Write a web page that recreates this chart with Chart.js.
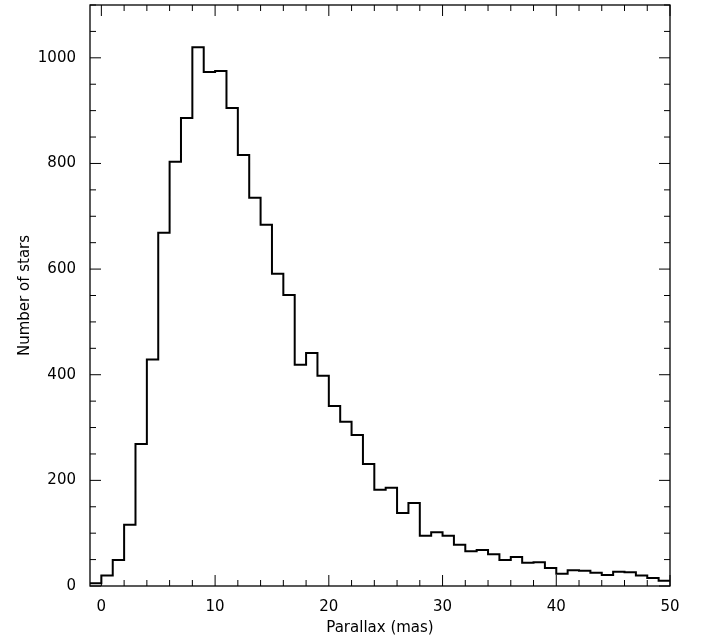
<!DOCTYPE html>
<html>
<head>
<script src="https://cdn.jsdelivr.net/npm/chart.js@4"></script>
<style>body{margin:0;background:#fff}</style>
</head>
<body>
<canvas id="c" width="701" height="641"></canvas>
<script>
// bin left edges (mas), 1 mas wide
const binEdges = [];
for (let e = -1; e <= 49; e++) binEdges.push(e);
const counts = [5, 20, 49, 116, 269, 429, 669, 803, 886, 1020,
  973, 975, 905, 816, 735, 684, 591, 551, 419, 441,
  398, 341, 311, 286, 231, 182, 186, 138, 157, 95,
  102, 95, 78, 66, 68, 60, 49, 55, 44, 45,
  34, 23, 30, 29, 25, 21, 27, 26, 20, 15, 10];
const xMajor = [0, 10, 20, 30, 40, 50];
const yMajor = [0, 200, 400, 600, 800, 1000];

const points = binEdges.map((e, i) => ({ x: e, y: counts[i] }));
points.push({ x: 50, y: counts[counts.length - 1] });

// box frame with inward ticks on all four sides
const framePlugin = {
  id: 'frame',
  afterDraw(chart) {
    const { ctx, chartArea: a, scales: { x, y } } = chart;
    ctx.save();
    ctx.strokeStyle = '#000';
    ctx.lineWidth = 1.3;
    ctx.strokeRect(a.left, a.top, a.right - a.left, a.bottom - a.top);
    ctx.lineWidth = 1;
    ctx.beginPath();
    for (let v = 0; v <= 50; v += 2) {
      const px = x.getPixelForValue(v);
      const len = v % 10 === 0 ? 11 : 6;
      ctx.moveTo(px, a.bottom); ctx.lineTo(px, a.bottom - len);
      ctx.moveTo(px, a.top); ctx.lineTo(px, a.top + len);
    }
    for (let v = 0; v <= 1100; v += 50) {
      const py = y.getPixelForValue(v);
      const len = v % 200 === 0 ? 11 : 6;
      ctx.moveTo(a.left, py); ctx.lineTo(a.left + len, py);
      ctx.moveTo(a.right, py); ctx.lineTo(a.right - len, py);
    }
    ctx.stroke();
    ctx.restore();
  }
};

const font = { family: 'DejaVu Sans', size: 15 };

new Chart(document.getElementById('c').getContext('2d'), {
  type: 'line',
  data: {
    datasets: [{
      data: points,
      stepped: 'before',
      borderColor: '#000',
      borderWidth: 2,
      pointRadius: 0,
      fill: false
    }]
  },
  options: {
    responsive: false,
    animation: false,
    layout: { padding: { top: 5, right: 31, left: 12, bottom: 0 } },
    plugins: { legend: { display: false }, tooltip: { enabled: false } },
    scales: {
      x: {
        type: 'linear',
        min: -1,
        max: 50,
        afterFit: s => { s.height = 55; },
        afterBuildTicks: s => { s.ticks = xMajor.map(v => ({ value: v })); },
        grid: { display: false },
        border: { display: false },
        ticks: { color: '#000', font: font, padding: 4, maxRotation: 0 },
        title: { display: true, text: 'Parallax (mas)', color: '#000', font: font, padding: { top: 0 } }
      },
      y: {
        min: 0,
        max: 1100,
        afterFit: s => { s.width = 78; s.paddingTop = 0; s.paddingBottom = 0; },
        afterBuildTicks: s => { s.ticks = yMajor.map(v => ({ value: v })); },
        grid: { display: false },
        border: { display: false },
        ticks: { color: '#000', font: font, padding: 6, callback: v => String(v) },
        title: { display: true, text: 'Number of stars', color: '#000', font: font }
      }
    }
  },
  plugins: [framePlugin]
});
</script>
</body>
</html>
